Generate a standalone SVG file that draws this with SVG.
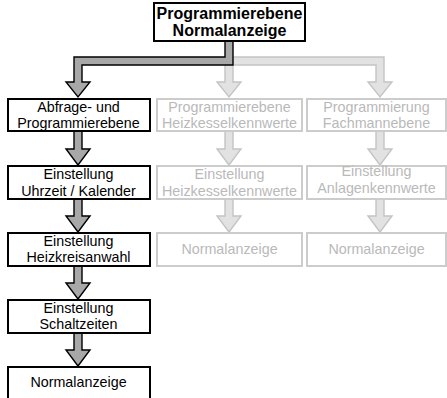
<svg xmlns="http://www.w3.org/2000/svg" width="447" height="398" viewBox="0 0 447 398">
<style>
text{font-family:"Liberation Sans",Arial,sans-serif;font-size:14.3px;text-anchor:middle}
.b rect{fill:#fff;stroke:#000;stroke-width:2}
.b text{fill:#000}
.g rect{fill:#fff;stroke:#cccccc;stroke-width:2}
.g text{fill:#b9b9b9}
.ad{fill:#a8a8a8;stroke:#000;stroke-width:1.4;stroke-linejoin:miter}
.ag{fill:#e2e2e2;stroke:#c4c4c4;stroke-width:1.4;stroke-linejoin:miter}
.top text{font-weight:bold;font-size:16px}
</style>
<rect width="447" height="398" fill="#fff"/>
<g id="connectors">
<polygon class="ag" points="233,57 384,57 384,82 392,82 380,97 368,82 376,82 376,65 233,65 233,82 241,82 229,97 217,82 225,82 225,65"/>
<polygon class="ad" points="225,41 225,57 74,57 74,82 66,82 78,97 90,82 82,82 82,65 233,65 233,41"/>
<polygon class="ad" points="74,131 74,149 66,149 78,165 90,149 82,149 82,131"/>
<polygon class="ad" points="74,199 74,216 66,216 78,232 90,216 82,216 82,199"/>
<polygon class="ad" points="74,266 74,283 66,283 78,299 90,283 82,283 82,266"/>
<polygon class="ad" points="74,333 74,350 66,350 78,366 90,350 82,350 82,333"/>
<polygon class="ag" points="225,131 225,149 217,149 229,165 241,149 233,149 233,131"/>
<polygon class="ag" points="225,199 225,216 217,216 229,232 241,216 233,216 233,199"/>
<polygon class="ag" points="376,131 376,149 368,149 380,165 392,149 384,149 384,131"/>
<polygon class="ag" points="376,199 376,216 368,216 380,232 392,216 384,216 384,199"/>
</g>
<g id="n_top" class="b top"><rect x="154" y="3" width="151" height="38"/><text x="229.5" y="19">Programmierebene</text><text x="229.5" y="36">Normalanzeige</text></g>
<g id="n_abfrage" class="b"><rect x="8" y="99" width="142" height="32"/><text x="78.5" y="112">Abfrage- und</text><text x="78.5" y="128">Programmierebene</text></g>
<g id="n_uhrzeit" class="b"><rect x="8" y="166" width="142" height="33"/><text x="78.5" y="179">Einstellung</text><text x="78.5" y="195.5">Uhrzeit / Kalender</text></g>
<g id="n_heizkreis" class="b"><rect x="8" y="233" width="142" height="33"/><text x="78.5" y="246">Einstellung</text><text x="78.5" y="262">Heizkreisanwahl</text></g>
<g id="n_schalt" class="b"><rect x="8" y="300" width="142" height="33"/><text x="78.5" y="313">Einstellung</text><text x="78.5" y="329">Schaltzeiten</text></g>
<g id="n_normal1" class="b"><rect x="8" y="367" width="142" height="34"/><text x="78.5" y="387">Normalanzeige</text></g>
<g id="n_pheiz" class="g"><rect x="157" y="99" width="145" height="32"/><text x="229.5" y="112">Programmierebene</text><text x="229.5" y="128">Heizkesselkennwerte</text></g>
<g id="n_eheiz" class="g"><rect x="157" y="166" width="145" height="33"/><text x="229.5" y="179">Einstellung</text><text x="229.5" y="195.5">Heizkesselkennwerte</text></g>
<g id="n_normal2" class="g"><rect x="157" y="233" width="145" height="33"/><text x="229.5" y="254">Normalanzeige</text></g>
<g id="n_pfach" class="g"><rect x="307" y="99" width="139" height="32"/><text x="376.5" y="112">Programmierung</text><text x="376.5" y="128">Fachmannebene</text></g>
<g id="n_eanl" class="g"><rect x="307" y="166" width="139" height="33"/><text x="376.5" y="176">Einstellung</text><text x="376.5" y="192.5">Anlagenkennwerte</text></g>
<g id="n_normal3" class="g"><rect x="307" y="233" width="139" height="33"/><text x="376.5" y="254">Normalanzeige</text></g>
</svg>
